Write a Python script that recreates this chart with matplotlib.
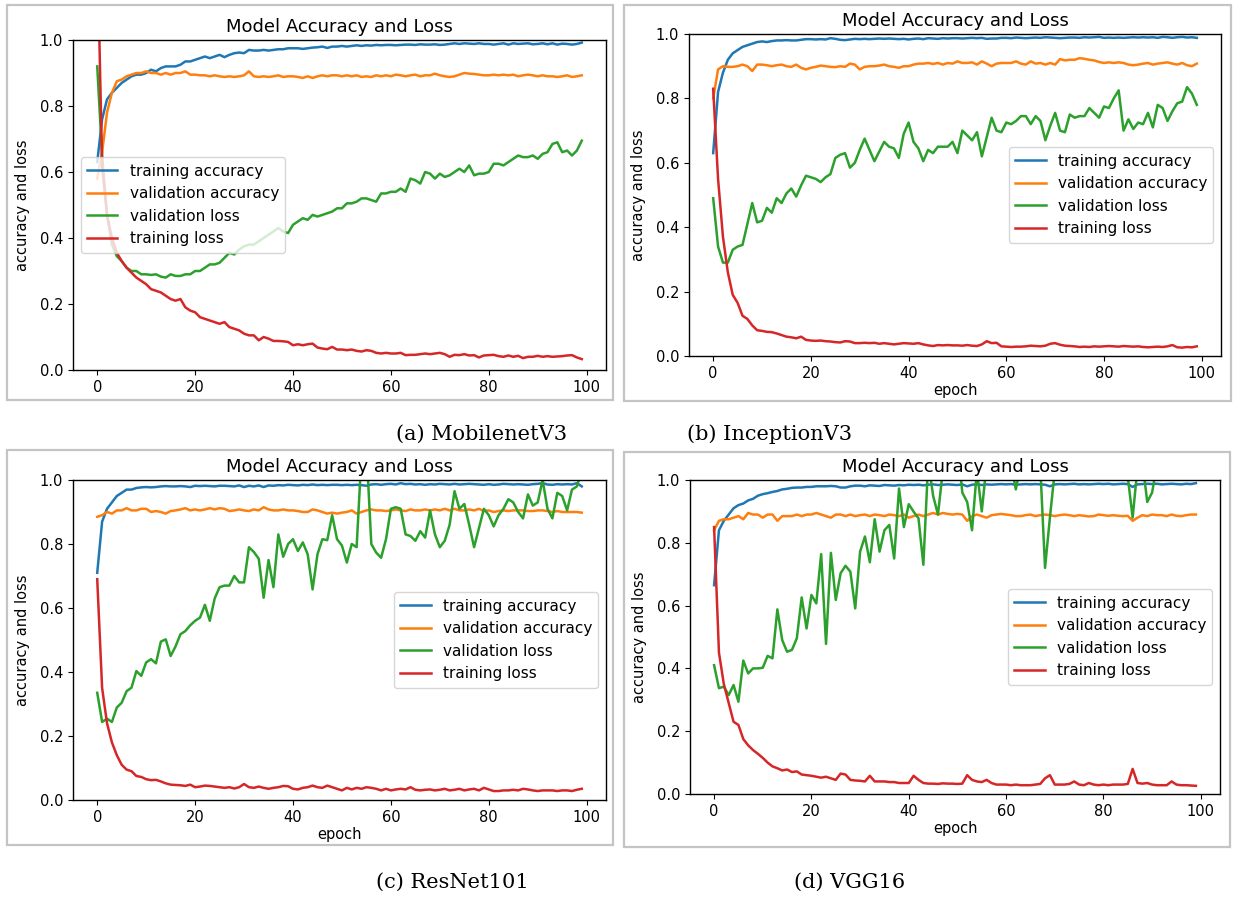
import matplotlib
matplotlib.use("Agg")
import matplotlib.pyplot as plt
from matplotlib.patches import Rectangle

# ---- data ----
epochs = list(range(100))
series_names = ["training accuracy", "validation accuracy", "validation loss", "training loss"]
colors = ["tab:blue", "tab:orange", "tab:green", "tab:red"]

# (a) MobilenetV3
a_train_acc = [0.63, 0.76, 0.82, 0.84, 0.855, 0.87, 0.88, 0.89, 0.895, 0.895,
               0.90, 0.91, 0.905, 0.915, 0.92, 0.92, 0.92, 0.925, 0.935, 0.935,
               0.94, 0.945, 0.95, 0.945, 0.95, 0.955, 0.948, 0.955, 0.96, 0.962,
               0.96, 0.97, 0.968, 0.968, 0.97, 0.968, 0.97, 0.972, 0.972, 0.975,
               0.975, 0.975, 0.973, 0.975, 0.977, 0.978, 0.98, 0.976, 0.98, 0.98,
               0.982, 0.98, 0.982, 0.984, 0.982, 0.984, 0.983, 0.985, 0.984, 0.985,
               0.985, 0.984, 0.985, 0.986, 0.986, 0.985, 0.987, 0.986, 0.986, 0.987,
               0.985, 0.986, 0.988, 0.99, 0.988, 0.99, 0.989, 0.988, 0.99, 0.988,
               0.988, 0.986, 0.988, 0.99, 0.986, 0.99, 0.988, 0.989, 0.99, 0.987,
               0.988, 0.99, 0.987, 0.99, 0.986, 0.989, 0.988, 0.986, 0.988, 0.992]
a_val_acc = [0.58, 0.66, 0.78, 0.84, 0.875, 0.88, 0.89, 0.895, 0.90, 0.90,
             0.905, 0.90, 0.90, 0.895, 0.90, 0.895, 0.90, 0.90, 0.905, 0.895,
             0.895, 0.893, 0.893, 0.89, 0.893, 0.89, 0.888, 0.89, 0.888, 0.89,
             0.893, 0.905, 0.89, 0.888, 0.89, 0.888, 0.89, 0.893, 0.888, 0.89,
             0.89, 0.888, 0.885, 0.89, 0.885, 0.89, 0.893, 0.89, 0.893, 0.893,
             0.89, 0.893, 0.89, 0.893, 0.888, 0.89, 0.888, 0.893, 0.89, 0.893,
             0.89, 0.895, 0.893, 0.89, 0.893, 0.895, 0.89, 0.893, 0.893, 0.898,
             0.893, 0.89, 0.888, 0.89, 0.895, 0.90, 0.898, 0.897, 0.895, 0.893,
             0.893, 0.895, 0.893, 0.895, 0.893, 0.895, 0.89, 0.893, 0.895, 0.893,
             0.89, 0.893, 0.89, 0.89, 0.888, 0.89, 0.893, 0.888, 0.89, 0.893]
a_val_loss = [0.92, 0.65, 0.47, 0.38, 0.345, 0.33, 0.31, 0.30, 0.30, 0.29,
              0.29, 0.288, 0.29, 0.283, 0.28, 0.29, 0.285, 0.285, 0.29, 0.29,
              0.30, 0.30, 0.31, 0.32, 0.32, 0.325, 0.34, 0.355, 0.35, 0.365,
              0.375, 0.38, 0.38, 0.39, 0.40, 0.41, 0.42, 0.43, 0.42, 0.415,
              0.44, 0.45, 0.46, 0.455, 0.47, 0.465, 0.47, 0.475, 0.48, 0.49,
              0.49, 0.505, 0.505, 0.51, 0.52, 0.52, 0.515, 0.51, 0.535, 0.535,
              0.54, 0.54, 0.55, 0.54, 0.58, 0.575, 0.565, 0.60, 0.595, 0.58,
              0.595, 0.585, 0.59, 0.60, 0.61, 0.60, 0.62, 0.59, 0.595, 0.595,
              0.60, 0.625, 0.625, 0.62, 0.63, 0.64, 0.65, 0.645, 0.645, 0.65,
              0.64, 0.655, 0.66, 0.685, 0.69, 0.66, 0.665, 0.65, 0.665, 0.695]
a_train_loss = [1.3, 0.62, 0.47, 0.40, 0.355, 0.33, 0.31, 0.295, 0.28, 0.27,
                0.26, 0.245, 0.24, 0.235, 0.225, 0.215, 0.21, 0.215, 0.19, 0.18,
                0.175, 0.16, 0.155, 0.15, 0.145, 0.14, 0.145, 0.13, 0.125, 0.12,
                0.11, 0.105, 0.105, 0.09, 0.10, 0.095, 0.088, 0.088, 0.087, 0.085,
                0.075, 0.078, 0.075, 0.078, 0.08, 0.068, 0.065, 0.063, 0.07, 0.062,
                0.062, 0.06, 0.062, 0.058, 0.056, 0.06, 0.058, 0.052, 0.05, 0.052,
                0.05, 0.05, 0.052, 0.045, 0.046, 0.046, 0.048, 0.05, 0.048, 0.05,
                0.052, 0.048, 0.04, 0.046, 0.045, 0.048, 0.044, 0.045, 0.038, 0.044,
                0.045, 0.046, 0.042, 0.04, 0.044, 0.04, 0.043, 0.036, 0.04, 0.04,
                0.043, 0.04, 0.042, 0.04, 0.041, 0.042, 0.044, 0.045, 0.038, 0.033]

# (b) InceptionV3
b_train_acc = [0.63, 0.82, 0.88, 0.92, 0.94, 0.95, 0.96, 0.965, 0.97, 0.975,
               0.977, 0.975, 0.978, 0.98, 0.98, 0.981, 0.98, 0.98, 0.982, 0.984,
               0.984, 0.983, 0.984, 0.983, 0.987, 0.985, 0.982, 0.981, 0.983, 0.985,
               0.984, 0.985, 0.984, 0.985, 0.986, 0.985, 0.986, 0.985, 0.984, 0.985,
               0.983, 0.985, 0.986, 0.984, 0.987, 0.986, 0.985, 0.987, 0.986, 0.987,
               0.987, 0.986, 0.987, 0.988, 0.987, 0.988, 0.985, 0.986, 0.986, 0.988,
               0.988, 0.987, 0.989, 0.988, 0.987, 0.988, 0.989, 0.988, 0.99, 0.989,
               0.988, 0.987, 0.988, 0.989, 0.989, 0.988, 0.99, 0.989, 0.99, 0.991,
               0.988, 0.989, 0.988, 0.989, 0.988, 0.989, 0.99, 0.989, 0.99, 0.989,
               0.99, 0.988, 0.991, 0.99, 0.988, 0.99, 0.991, 0.989, 0.99, 0.988]
b_val_acc = [0.80, 0.89, 0.90, 0.898, 0.898, 0.90, 0.905, 0.90, 0.885, 0.905,
             0.905, 0.903, 0.90, 0.903, 0.905, 0.90, 0.898, 0.905, 0.895, 0.89,
             0.895, 0.898, 0.902, 0.90, 0.898, 0.897, 0.90, 0.898, 0.908, 0.905,
             0.89, 0.898, 0.90, 0.90, 0.902, 0.905, 0.90, 0.898, 0.895, 0.90,
             0.90, 0.905, 0.908, 0.908, 0.91, 0.907, 0.91, 0.905, 0.91, 0.908,
             0.915, 0.91, 0.91, 0.912, 0.905, 0.915, 0.908, 0.90, 0.908, 0.91,
             0.91, 0.91, 0.915, 0.908, 0.905, 0.915, 0.908, 0.91, 0.905, 0.91,
             0.905, 0.922, 0.918, 0.92, 0.92, 0.925, 0.923, 0.92, 0.918, 0.913,
             0.91, 0.912, 0.91, 0.912, 0.91, 0.905, 0.903, 0.905, 0.908, 0.91,
             0.905, 0.908, 0.91, 0.912, 0.908, 0.905, 0.91, 0.903, 0.90, 0.908]
b_val_loss = [0.49, 0.34, 0.29, 0.29, 0.33, 0.34, 0.345, 0.41, 0.475, 0.415,
              0.42, 0.46, 0.445, 0.49, 0.475, 0.505, 0.52, 0.495, 0.53, 0.56,
              0.555, 0.55, 0.54, 0.555, 0.565, 0.615, 0.625, 0.63, 0.585, 0.60,
              0.64, 0.675, 0.64, 0.605, 0.635, 0.665, 0.65, 0.645, 0.615, 0.69,
              0.725, 0.665, 0.645, 0.605, 0.64, 0.63, 0.65, 0.65, 0.65, 0.665,
              0.63, 0.70, 0.685, 0.67, 0.695, 0.62, 0.68, 0.74, 0.70, 0.695,
              0.725, 0.72, 0.73, 0.745, 0.745, 0.72, 0.745, 0.73, 0.67, 0.715,
              0.755, 0.70, 0.695, 0.75, 0.74, 0.745, 0.745, 0.77, 0.755, 0.74,
              0.775, 0.77, 0.80, 0.825, 0.70, 0.735, 0.705, 0.725, 0.72, 0.755,
              0.71, 0.78, 0.77, 0.73, 0.76, 0.785, 0.79, 0.835, 0.815, 0.78]
b_train_loss = [0.83, 0.55, 0.37, 0.26, 0.19, 0.165, 0.125, 0.115, 0.095, 0.08,
                0.078, 0.075, 0.074, 0.07, 0.065, 0.06, 0.058, 0.055, 0.06, 0.05,
                0.048, 0.047, 0.048, 0.046, 0.045, 0.043, 0.042, 0.046, 0.045, 0.04,
                0.04, 0.041, 0.04, 0.041, 0.038, 0.04, 0.038, 0.036, 0.038, 0.04,
                0.039, 0.038, 0.04, 0.036, 0.033, 0.031, 0.034, 0.033, 0.034, 0.033,
                0.033, 0.032, 0.034, 0.032, 0.031, 0.036, 0.046, 0.04, 0.041, 0.03,
                0.029, 0.028, 0.029, 0.029, 0.03, 0.032, 0.031, 0.03, 0.032, 0.038,
                0.04, 0.035, 0.032, 0.031, 0.03, 0.028, 0.029, 0.028, 0.03, 0.029,
                0.03, 0.031, 0.03, 0.029, 0.031, 0.03, 0.029, 0.03, 0.028, 0.027,
                0.028, 0.029, 0.028, 0.03, 0.034, 0.027, 0.026, 0.028, 0.027, 0.03]

# (c) ResNet101
c_train_acc = [0.71, 0.87, 0.91, 0.93, 0.95, 0.96, 0.97, 0.97, 0.975, 0.977,
               0.978, 0.977, 0.978, 0.98, 0.981, 0.98, 0.98, 0.981, 0.98, 0.978,
               0.982, 0.981, 0.982, 0.981, 0.98, 0.982, 0.982, 0.981, 0.98, 0.983,
               0.978, 0.982, 0.98, 0.983, 0.978, 0.983, 0.982, 0.984, 0.983, 0.985,
               0.984, 0.983, 0.985, 0.984, 0.986, 0.984, 0.985, 0.984, 0.985, 0.985,
               0.984, 0.985, 0.984, 0.985, 0.984, 0.982, 0.986, 0.987, 0.985, 0.987,
               0.988, 0.986, 0.99, 0.987, 0.988, 0.986, 0.987, 0.985, 0.987, 0.986,
               0.988, 0.987, 0.986, 0.988, 0.986, 0.987, 0.988, 0.987, 0.986, 0.985,
               0.987, 0.985, 0.986, 0.988, 0.987, 0.986, 0.987, 0.986, 0.985, 0.987,
               0.988, 0.99, 0.986, 0.985, 0.987, 0.986, 0.987, 0.986, 0.99, 0.98]
c_val_acc = [0.885, 0.89, 0.90, 0.895, 0.905, 0.905, 0.912, 0.905, 0.905, 0.91,
             0.91, 0.90, 0.903, 0.90, 0.895, 0.903, 0.905, 0.908, 0.912, 0.905,
             0.908, 0.905, 0.908, 0.912, 0.908, 0.912, 0.91, 0.903, 0.905, 0.908,
             0.905, 0.903, 0.908, 0.905, 0.915, 0.908, 0.905, 0.905, 0.908, 0.905,
             0.905, 0.903, 0.90, 0.90, 0.908, 0.905, 0.90, 0.895, 0.898, 0.895,
             0.898, 0.90, 0.905, 0.895, 0.90, 0.905, 0.908, 0.905, 0.905, 0.903,
             0.905, 0.908, 0.905, 0.903, 0.908, 0.905, 0.905, 0.908, 0.905, 0.908,
             0.905, 0.91, 0.905, 0.91, 0.905, 0.905, 0.908, 0.905, 0.91, 0.903,
             0.905, 0.90, 0.903, 0.905, 0.903, 0.905, 0.905, 0.905, 0.903, 0.903,
             0.905, 0.905, 0.903, 0.90, 0.903, 0.90, 0.90, 0.90, 0.90, 0.898]
c_val_loss = [0.335, 0.244, 0.254, 0.244, 0.289, 0.304, 0.34, 0.351, 0.403, 0.388,
              0.43, 0.44, 0.427, 0.495, 0.502, 0.45, 0.48, 0.518, 0.528, 0.546,
              0.56, 0.57, 0.61, 0.56, 0.63, 0.665, 0.67, 0.67, 0.70, 0.68,
              0.68, 0.79, 0.775, 0.754, 0.632, 0.75, 0.665, 0.83, 0.76, 0.80,
              0.815, 0.778, 0.805, 0.768, 0.658, 0.768, 0.815, 0.812, 0.89, 0.815,
              0.795, 0.742, 0.80, 0.79, 1.08, 1.1, 0.80, 0.773, 0.757, 0.815,
              0.91, 0.915, 0.91, 0.83, 0.825, 0.81, 0.84, 0.82, 0.905, 0.83,
              0.79, 0.81, 0.86, 0.965, 0.91, 0.925, 0.86, 0.79, 0.85, 0.91,
              0.89, 0.855, 0.89, 0.91, 0.94, 0.93, 0.90, 0.88, 0.955, 0.92,
              0.93, 1.0, 0.91, 0.88, 0.96, 0.95, 0.905, 0.97, 0.98, 1.03]
c_train_loss = [0.69, 0.35, 0.24, 0.18, 0.14, 0.11, 0.095, 0.09, 0.075, 0.072,
                0.065, 0.062, 0.063, 0.058, 0.052, 0.048, 0.047, 0.046, 0.044, 0.048,
                0.04, 0.042, 0.045, 0.044, 0.042, 0.04, 0.038, 0.04, 0.036, 0.04,
                0.05, 0.04, 0.038, 0.042, 0.038, 0.035, 0.038, 0.04, 0.044, 0.043,
                0.035, 0.033, 0.038, 0.04, 0.045, 0.04, 0.038, 0.045, 0.04, 0.035,
                0.03, 0.038, 0.033, 0.038, 0.035, 0.04, 0.038, 0.035, 0.03, 0.035,
                0.03, 0.033, 0.035, 0.033, 0.04, 0.032, 0.03, 0.032, 0.033, 0.03,
                0.032, 0.035, 0.03, 0.032, 0.035, 0.03, 0.033, 0.035, 0.03, 0.038,
                0.033, 0.028, 0.028, 0.03, 0.03, 0.032, 0.03, 0.035, 0.033, 0.03,
                0.028, 0.03, 0.03, 0.03, 0.028, 0.03, 0.03, 0.028, 0.032, 0.035]

# (d) VGG16
d_train_acc = [0.665, 0.84, 0.87, 0.89, 0.91, 0.92, 0.925, 0.935, 0.94, 0.95,
               0.955, 0.958, 0.962, 0.965, 0.97, 0.972, 0.975, 0.976, 0.976, 0.978,
               0.978, 0.98, 0.98, 0.98, 0.981, 0.98, 0.976, 0.976, 0.98, 0.982,
               0.982, 0.98, 0.983, 0.982, 0.981, 0.984, 0.983, 0.982, 0.984, 0.983,
               0.985, 0.984, 0.985, 0.983, 0.985, 0.986, 0.984, 0.985, 0.986, 0.985,
               0.984, 0.986, 0.98, 0.985, 0.986, 0.984, 0.986, 0.985, 0.986, 0.987,
               0.986, 0.987, 0.985, 0.986, 0.987, 0.986, 0.987, 0.986, 0.985, 0.98,
               0.986, 0.987, 0.986, 0.987, 0.988, 0.986, 0.987, 0.986, 0.987, 0.988,
               0.987, 0.988, 0.986, 0.987, 0.988, 0.987, 0.978, 0.986, 0.987, 0.988,
               0.987, 0.988, 0.986, 0.987, 0.988, 0.987, 0.986, 0.988, 0.987, 0.99]
d_val_acc = [0.84, 0.87, 0.875, 0.875, 0.88, 0.885, 0.875, 0.895, 0.89, 0.89,
             0.88, 0.89, 0.89, 0.87, 0.885, 0.885, 0.885, 0.89, 0.885, 0.89,
             0.89, 0.895, 0.89, 0.885, 0.88, 0.89, 0.89, 0.885, 0.89, 0.885,
             0.888, 0.89, 0.885, 0.89, 0.888, 0.885, 0.89, 0.888, 0.885, 0.89,
             0.88, 0.885, 0.89, 0.885, 0.89, 0.895, 0.89, 0.895, 0.892, 0.89,
             0.892, 0.89, 0.87, 0.885, 0.89, 0.885, 0.88, 0.888, 0.89, 0.892,
             0.89, 0.888, 0.885, 0.885, 0.888, 0.89, 0.885, 0.888, 0.89, 0.888,
             0.885, 0.888, 0.89, 0.888, 0.885, 0.888, 0.886, 0.884, 0.885, 0.89,
             0.888, 0.886, 0.888, 0.886, 0.885, 0.886, 0.87, 0.88, 0.888, 0.885,
             0.89, 0.888, 0.888, 0.885, 0.89, 0.886, 0.885, 0.888, 0.89, 0.89]
d_val_loss = [0.41, 0.337, 0.342, 0.315, 0.347, 0.294, 0.425, 0.384, 0.40, 0.40,
              0.402, 0.44, 0.432, 0.588, 0.49, 0.453, 0.459, 0.496, 0.626, 0.527,
              0.634, 0.607, 0.764, 0.478, 0.768, 0.618, 0.703, 0.727, 0.708, 0.591,
              0.772, 0.82, 0.738, 0.875, 0.772, 0.84, 0.857, 0.75, 0.973, 0.85,
              0.923, 0.899, 0.878, 0.73, 1.06, 0.95, 0.89, 1.03, 1.1, 1.08,
              1.12, 0.96, 0.93, 0.84, 1.03, 0.90, 1.05, 1.1, 1.08, 1.12,
              1.1, 1.05, 0.97, 1.05, 1.1, 1.08, 1.12, 1.05, 0.72, 0.88,
              1.03, 1.08, 1.1, 1.12, 1.08, 1.1, 1.05, 1.1, 1.12, 1.08,
              1.1, 1.12, 1.08, 1.1, 1.05, 1.01, 0.88, 1.04, 1.06, 0.93,
              0.96, 1.05, 1.1, 1.12, 1.08, 1.1, 1.12, 1.08, 1.1, 1.12]
d_train_loss = [0.85, 0.45, 0.35, 0.29, 0.23, 0.22, 0.175, 0.155, 0.14, 0.128,
                0.115, 0.10, 0.088, 0.082, 0.075, 0.078, 0.07, 0.072, 0.062, 0.06,
                0.058, 0.055, 0.052, 0.055, 0.05, 0.045, 0.065, 0.062, 0.045, 0.043,
                0.042, 0.04, 0.058, 0.04, 0.04, 0.04, 0.038, 0.038, 0.035, 0.035,
                0.035, 0.058, 0.045, 0.035, 0.033, 0.033, 0.032, 0.034, 0.033, 0.033,
                0.032, 0.033, 0.06, 0.045, 0.04, 0.038, 0.045, 0.035, 0.03, 0.03,
                0.03, 0.028, 0.03, 0.028, 0.028, 0.028, 0.03, 0.032, 0.05, 0.06,
                0.03, 0.03, 0.03, 0.032, 0.04, 0.03, 0.028, 0.035, 0.03, 0.028,
                0.03, 0.028, 0.03, 0.03, 0.03, 0.032, 0.08, 0.035, 0.033, 0.035,
                0.03, 0.028, 0.028, 0.028, 0.04, 0.03, 0.028, 0.028, 0.027, 0.026]

captions = ["(a) MobilenetV3", "(b) InceptionV3", "(c) ResNet101", "(d) VGG16"]
title = "Model Accuracy and Loss"
yticks = [0.0, 0.2, 0.4, 0.6, 0.8, 1.0]
xticks = [0, 20, 40, 60, 80, 100]

plt.rcParams["font.family"] = ["DejaVu Sans"]
plt.rcParams["xtick.labelsize"] = 10.5
plt.rcParams["ytick.labelsize"] = 10.5

W, H = 1233, 899
fig = plt.figure(figsize=(W / 100, H / 100), dpi=100)


def px_axes(l, r, t, b):
    return fig.add_axes([l / W, 1 - b / H, (r - l) / W, (b - t) / H])


def frame_box(l, r, t, b):
    fig.patches.append(Rectangle((l / W, 1 - b / H), (r - l) / W, (b - t) / H,
                                 transform=fig.transFigure, fill=False,
                                 edgecolor="#c4c4c4", lw=1.6))


panels = [
    ((73, 606, 40, 370), (7, 613, 5, 400),
     [a_train_acc, a_val_acc, a_val_loss, a_train_loss], "center left", False),
    ((689, 1221, 34, 356), (624, 1231, 5, 401),
     [b_train_acc, b_val_acc, b_val_loss, b_train_loss], "center right", True),
    ((73, 606, 480, 800), (7, 613, 450, 845),
     [c_train_acc, c_val_acc, c_val_loss, c_train_loss], "center right", True),
    ((690, 1220, 480, 794), (624, 1230, 452, 847),
     [d_train_acc, d_val_acc, d_val_loss, d_train_loss], "center right", True),
]

for (ax_box, border, data, loc, show_x) in panels:
    frame_box(*border)
    ax = px_axes(*ax_box)
    for name, vals, c in zip(series_names, data, colors):
        ax.plot(epochs, vals, color=c, lw=1.8, label=name)
    ax.set_ylim(0, 1.0)
    ax.set_yticks(yticks)
    ax.set_xticks(xticks)
    ax.set_title(title, fontsize=13)
    ax.set_ylabel("accuracy and loss", fontsize=10.5, labelpad=7)
    if show_x:
        ax.set_xlabel("epoch", fontsize=10.5, labelpad=2)
    ax.legend(loc=loc, fontsize=11)
    for s in ax.spines.values():
        s.set_linewidth(1.0)

cap_pos = [(482, 434), (770, 434), (452, 882), (850, 882)]
for txt, (x, y) in zip(captions, cap_pos):
    fig.text(x / W, 1 - y / H, txt, ha="center", va="center",
             family="DejaVu Serif", fontsize=15)

fig.savefig("out.png", dpi=100)
